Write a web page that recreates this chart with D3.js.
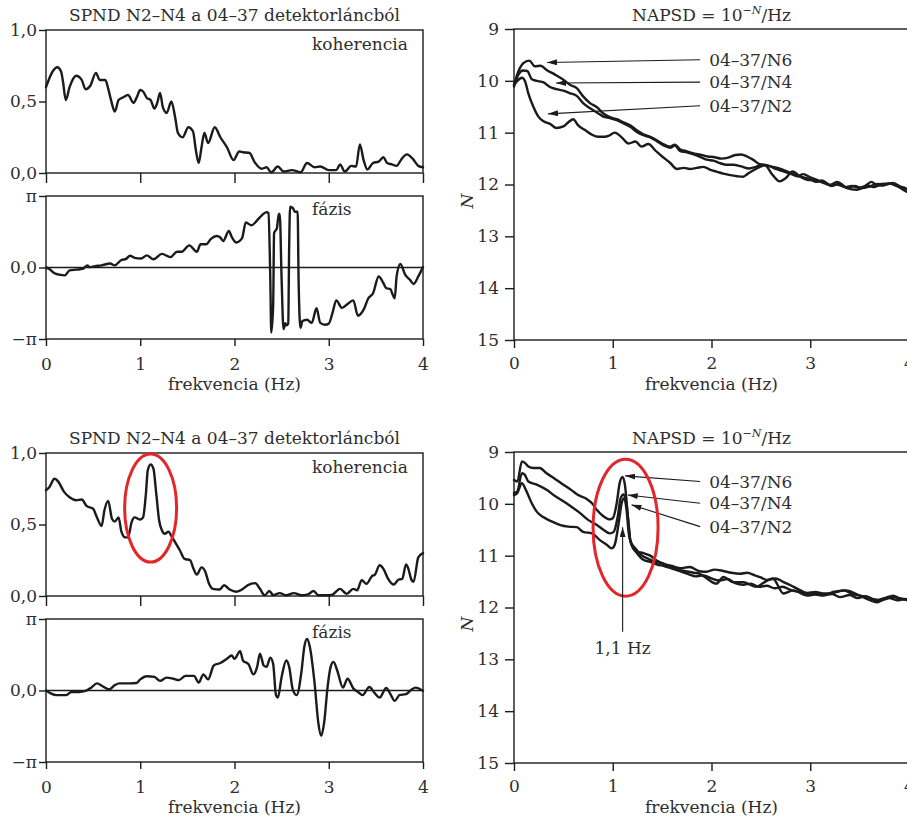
<!DOCTYPE html>
<html><head><meta charset="utf-8">
<script src="https://cdn.jsdelivr.net/npm/d3@7"></script>
<style>
body{margin:0;background:#fff}
svg{display:block}
text{font-family:"DejaVu Serif",serif;fill:#2e2e2e}
</style>
</head><body>
<svg id="c" width="907" height="823"></svg>
<script>
// ---------------- DATA ----------------
const freqTicks = [0, 1, 2, 3, 4];
const cohTicks = [0, 0.5, 1];
const cohTickLabels = ["0,0", "0,5", "1,0"];
const phaseTicks = [-1, 0, 1];            // in units of π
const phaseTickLabels = ["\u2212\u03c0", "0,0", "\u03c0"];
const psdTicks = [9, 10, 11, 12, 13, 14, 15];
const seriesLabels = ["04\u201337/N6", "04\u201337/N4", "04\u201337/N2"];
const leftTitle = "SPND N2\u2013N4 a 04\u201337 detektorláncból";

// top row: coherence (frequency Hz, coherence)
const cohTop = [[0,0.60],[0.07,0.71],[0.12,0.74],[0.16,0.71],[0.18,0.64],[0.21,0.51],[0.25,0.60],[0.32,0.68],[0.38,0.65],[0.42,0.585],[0.47,0.61],[0.53,0.70],[0.57,0.65],[0.63,0.65],[0.66,0.59],[0.69,0.51],[0.73,0.43],[0.77,0.51],[0.82,0.53],[0.87,0.545],[0.93,0.49],[0.96,0.525],[1.0,0.58],[1.03,0.57],[1.07,0.525],[1.11,0.51],[1.15,0.45],[1.18,0.49],[1.21,0.56],[1.24,0.46],[1.28,0.42],[1.33,0.50],[1.37,0.39],[1.40,0.28],[1.45,0.25],[1.51,0.32],[1.56,0.29],[1.59,0.16],[1.62,0.07],[1.65,0.18],[1.68,0.28],[1.72,0.21],[1.79,0.32],[1.85,0.25],[1.92,0.18],[1.99,0.09],[2.05,0.15],[2.09,0.145],[2.16,0.14],[2.21,0.08],[2.29,0.03],[2.34,0.04],[2.39,0.005],[2.46,0.045],[2.52,0.01],[2.61,0.02],[2.70,0.005],[2.77,0.07],[2.85,0.04],[2.91,0.045],[3.0,0.02],[3.08,0.02],[3.12,0.06],[3.17,0.01],[3.24,0.05],[3.29,0.045],[3.33,0.20],[3.37,0.09],[3.41,0.025],[3.47,0.07],[3.53,0.08],[3.58,0.11],[3.62,0.07],[3.67,0.06],[3.72,0.05],[3.77,0.095],[3.83,0.13],[3.89,0.10],[3.95,0.05],[4.0,0.04]];

// top row: phase (frequency Hz, phase / π)
const phaseTop = [[0,0],[0.035,-0.02],[0.09,-0.08],[0.14,-0.10],[0.2,-0.11],[0.25,-0.04],[0.32,-0.03],[0.39,-0.02],[0.44,0.03],[0.46,0.005],[0.52,0.02],[0.59,0.03],[0.68,0.055],[0.73,0.03],[0.80,0.105],[0.85,0.12],[0.89,0.165],[0.94,0.135],[1.01,0.125],[1.07,0.17],[1.14,0.115],[1.23,0.19],[1.32,0.145],[1.39,0.22],[1.44,0.22],[1.52,0.31],[1.60,0.22],[1.64,0.325],[1.70,0.325],[1.75,0.40],[1.81,0.44],[1.85,0.42],[1.88,0.37],[1.94,0.51],[1.97,0.43],[2.02,0.35],[2.08,0.41],[2.12,0.63],[2.18,0.59],[2.24,0.66],[2.29,0.73],[2.34,0.775],[2.36,0.76],[2.38,-0.17],[2.39,-0.91],[2.41,-0.54],[2.42,0.48],[2.45,0.55],[2.47,0.75],[2.48,0.75],[2.50,-0.17],[2.52,-0.86],[2.54,-0.78],[2.55,-0.81],[2.57,-0.785],[2.58,0.29],[2.59,0.85],[2.62,0.83],[2.64,0.78],[2.67,0.78],[2.68,-0.17],[2.70,-0.845],[2.72,-0.75],[2.77,-0.73],[2.82,-0.775],[2.87,-0.57],[2.91,-0.775],[2.96,-0.80],[3.0,-0.785],[3.04,-0.635],[3.08,-0.46],[3.14,-0.565],[3.21,-0.50],[3.26,-0.46],[3.31,-0.675],[3.37,-0.59],[3.42,-0.43],[3.47,-0.36],[3.53,-0.125],[3.58,-0.22],[3.61,-0.29],[3.65,-0.30],[3.70,-0.43],[3.72,-0.125],[3.76,0.05],[3.81,-0.10],[3.86,-0.17],[3.90,-0.23],[3.95,-0.125],[4.0,0.005]];

// bottom row: coherence
const cohBot = [[0,0.74],[0.035,0.76],[0.09,0.82],[0.13,0.80],[0.19,0.73],[0.25,0.69],[0.32,0.67],[0.38,0.675],[0.43,0.63],[0.50,0.61],[0.54,0.55],[0.59,0.49],[0.62,0.60],[0.66,0.665],[0.70,0.54],[0.73,0.52],[0.77,0.55],[0.80,0.45],[0.84,0.41],[0.87,0.41],[0.91,0.52],[0.94,0.55],[1.0,0.535],[1.03,0.55],[1.06,0.715],[1.08,0.88],[1.11,0.92],[1.14,0.89],[1.17,0.715],[1.20,0.53],[1.23,0.46],[1.26,0.435],[1.30,0.45],[1.33,0.42],[1.38,0.365],[1.42,0.32],[1.47,0.26],[1.53,0.25],[1.56,0.20],[1.60,0.15],[1.65,0.20],[1.69,0.17],[1.73,0.085],[1.77,0.05],[1.84,0.045],[1.89,0.075],[1.95,0.045],[2.02,0.03],[2.09,0.05],[2.14,0.075],[2.22,0.09],[2.27,0.05],[2.32,0.005],[2.37,0.035],[2.41,0.007],[2.48,0.02],[2.55,0.005],[2.63,0.02],[2.71,0.005],[2.78,0.012],[2.84,0.035],[2.89,0.005],[2.96,0.005],[3.03,0.007],[3.12,0.05],[3.19,0.015],[3.26,0.05],[3.30,0.04],[3.35,0.11],[3.40,0.085],[3.46,0.14],[3.49,0.15],[3.54,0.215],[3.58,0.19],[3.63,0.12],[3.69,0.08],[3.74,0.115],[3.78,0.12],[3.82,0.22],[3.84,0.20],[3.88,0.11],[3.90,0.10],[3.95,0.27],[4.0,0.30]];

// bottom row: phase / π
const phaseBot = [[0,0],[0.05,-0.04],[0.11,-0.065],[0.21,-0.065],[0.27,-0.02],[0.35,-0.02],[0.42,-0.005],[0.48,0.04],[0.54,0.10],[0.60,0.06],[0.67,0.015],[0.73,0.075],[0.78,0.10],[0.89,0.10],[0.96,0.105],[1.0,0.155],[1.07,0.20],[1.15,0.19],[1.21,0.135],[1.28,0.18],[1.35,0.165],[1.41,0.145],[1.48,0.205],[1.57,0.205],[1.62,0.11],[1.67,0.225],[1.72,0.155],[1.78,0.35],[1.85,0.385],[1.92,0.445],[1.97,0.49],[2.0,0.445],[2.06,0.55],[2.09,0.42],[2.15,0.365],[2.20,0.225],[2.24,0.33],[2.27,0.515],[2.31,0.35],[2.34,0.33],[2.38,0.46],[2.41,0.375],[2.44,-0.065],[2.46,-0.10],[2.50,0.19],[2.55,0.42],[2.58,0.33],[2.62,0.005],[2.66,-0.065],[2.71,0.26],[2.74,0.605],[2.77,0.72],[2.80,0.605],[2.85,0.10],[2.89,-0.46],[2.92,-0.635],[2.95,-0.46],[2.99,0.075],[3.02,0.33],[3.05,0.40],[3.09,0.28],[3.15,0.04],[3.20,0.165],[3.26,0.03],[3.31,-0.02],[3.36,-0.065],[3.43,0.05],[3.49,-0.04],[3.54,-0.10],[3.61,0.035],[3.65,-0.04],[3.70,-0.145],[3.75,-0.065],[3.82,-0.05],[3.88,0.015],[3.92,0.04],[4.0,-0.005]];

// top row: NAPSD exponent N
const psdTopN6 = [[0,10.08],[0.044,9.82],[0.095,9.66],[0.155,9.61],[0.21,9.72],[0.27,9.71],[0.33,9.79],[0.415,9.88],[0.5,9.98],[0.57,10.08],[0.635,10.14],[0.70,10.30],[0.77,10.43],[0.84,10.51],[0.905,10.63],[0.97,10.70],[1.04,10.74],[1.11,10.80],[1.18,10.86],[1.24,10.95],[1.31,11.03],[1.38,11.08],[1.45,11.15],[1.51,11.22],[1.58,11.27],[1.63,11.23],[1.68,11.32],[1.75,11.36],[1.82,11.40],[1.9,11.43],[1.96,11.46],[2.02,11.47],[2.1,11.50],[2.17,11.48],[2.24,11.43],[2.3,11.42],[2.36,11.46],[2.42,11.52],[2.48,11.6],[2.56,11.63],[2.62,11.66],[2.7,11.70],[2.78,11.76],[2.85,11.82],[2.92,11.86],[3.0,11.90],[3.06,11.95],[3.12,11.92],[3.2,12.01],[3.27,12.0],[3.35,12.05],[3.42,12.03],[3.5,12.06],[3.58,12.02],[3.65,12.05],[3.72,11.99],[3.8,11.98],[3.88,12.03],[3.95,12.06],[4.0,12.12]];
const psdTopN4 = [[0,10.11],[0.044,9.88],[0.09,9.80],[0.135,9.81],[0.18,9.97],[0.23,10.0],[0.3,10.03],[0.365,10.12],[0.43,10.16],[0.5,10.19],[0.57,10.24],[0.635,10.29],[0.70,10.43],[0.77,10.53],[0.84,10.61],[0.905,10.69],[0.97,10.72],[1.04,10.76],[1.11,10.82],[1.18,10.89],[1.24,10.98],[1.31,11.05],[1.38,11.09],[1.45,11.17],[1.51,11.24],[1.58,11.29],[1.63,11.25],[1.68,11.35],[1.75,11.38],[1.82,11.42],[1.89,11.47],[1.95,11.52],[2.02,11.54],[2.09,11.59],[2.15,11.62],[2.22,11.62],[2.3,11.65],[2.38,11.69],[2.45,11.66],[2.52,11.62],[2.58,11.64],[2.65,11.70],[2.72,11.74],[2.8,11.79],[2.87,11.84],[2.93,11.80],[3.0,11.86],[3.08,11.92],[3.15,11.97],[3.22,12.03],[3.3,11.98],[3.37,12.06],[3.45,12.03],[3.52,12.07],[3.6,12.04],[3.68,11.99],[3.76,12.0],[3.84,11.97],[3.92,12.05],[4.0,12.1]];
const psdTopN2 = [[0,10.08],[0.034,10.0],[0.08,9.94],[0.11,10.0],[0.145,10.24],[0.196,10.50],[0.247,10.69],[0.30,10.78],[0.365,10.83],[0.43,10.91],[0.5,10.88],[0.55,10.80],[0.60,10.74],[0.65,10.86],[0.72,10.95],[0.79,11.04],[0.855,11.08],[0.92,11.08],[0.97,11.05],[1.02,11.0],[1.09,11.09],[1.16,11.21],[1.23,11.17],[1.29,11.27],[1.36,11.22],[1.43,11.34],[1.5,11.46],[1.58,11.58],[1.65,11.70],[1.72,11.68],[1.78,11.70],[1.85,11.68],[1.92,11.66],[1.99,11.72],[2.05,11.75],[2.12,11.79],[2.19,11.82],[2.26,11.84],[2.32,11.85],[2.37,11.79],[2.46,11.69],[2.54,11.63],[2.62,11.82],[2.69,11.94],[2.75,11.88],[2.82,11.75],[2.9,11.85],[2.97,11.91],[3.05,11.92],[3.12,11.96],[3.2,12.01],[3.27,11.95],[3.37,12.07],[3.47,12.1],[3.55,12.04],[3.62,11.95],[3.67,12.01],[3.74,12.02],[3.81,11.98],[3.9,12.05],[3.98,12.14],[4.0,12.15]];

// bottom row: NAPSD exponent N
const psdBotN6 = [[0,9.54],[0.034,9.57],[0.08,9.18],[0.11,9.21],[0.145,9.28],[0.196,9.31],[0.26,9.31],[0.33,9.41],[0.415,9.52],[0.5,9.63],[0.585,9.74],[0.65,9.83],[0.74,9.91],[0.79,9.99],[0.84,10.12],[0.905,10.24],[0.97,10.30],[1.0,10.28],[1.04,9.99],[1.07,9.6],[1.10,9.48],[1.125,9.66],[1.15,10.18],[1.175,10.68],[1.2,10.82],[1.24,10.92],[1.31,10.95],[1.38,11.0],[1.45,11.1],[1.52,11.16],[1.6,11.2],[1.68,11.24],[1.78,11.22],[1.88,11.3],[1.95,11.31],[2.03,11.27],[2.11,11.29],[2.2,11.33],[2.29,11.35],[2.36,11.33],[2.44,11.38],[2.5,11.42],[2.56,11.47],[2.65,11.44],[2.72,11.5],[2.8,11.57],[2.88,11.65],[2.97,11.72],[3.05,11.7],[3.13,11.73],[3.2,11.73],[3.27,11.7],[3.34,11.67],[3.42,11.73],[3.5,11.77],[3.58,11.8],[3.67,11.86],[3.75,11.82],[3.84,11.77],[3.9,11.82],[4.0,11.86]];
const psdBotN4 = [[0,9.79],[0.034,9.76],[0.08,9.41],[0.11,9.44],[0.145,9.57],[0.23,9.63],[0.33,9.73],[0.415,9.85],[0.5,9.95],[0.585,10.06],[0.67,10.18],[0.75,10.31],[0.84,10.41],[0.905,10.5],[0.97,10.57],[1.01,10.54],[1.05,10.25],[1.08,9.89],[1.11,9.82],[1.135,9.95],[1.16,10.37],[1.18,10.72],[1.23,10.86],[1.29,10.99],[1.36,11.06],[1.43,11.12],[1.5,11.15],[1.58,11.22],[1.66,11.27],[1.74,11.3],[1.82,11.33],[1.88,11.35],[1.96,11.45],[2.05,11.54],[2.12,11.41],[2.22,11.51],[2.32,11.51],[2.45,11.6],[2.53,11.52],[2.62,11.44],[2.73,11.73],[2.83,11.67],[2.97,11.77],[3.05,11.75],[3.13,11.77],[3.23,11.7],[3.36,11.67],[3.5,11.77],[3.58,11.84],[3.67,11.9],[3.75,11.84],[3.84,11.8],[3.92,11.83],[4.0,11.84]];
const psdBotN2 = [[0,9.83],[0.034,9.79],[0.08,9.6],[0.12,9.73],[0.18,9.99],[0.23,10.15],[0.30,10.26],[0.38,10.34],[0.47,10.41],[0.55,10.44],[0.635,10.45],[0.70,10.54],[0.79,10.57],[0.87,10.70],[0.94,10.79],[0.99,10.86],[1.02,10.79],[1.06,10.37],[1.09,9.99],[1.115,9.89],[1.14,10.12],[1.16,10.54],[1.19,10.79],[1.24,10.94],[1.31,11.08],[1.38,11.12],[1.45,11.17],[1.52,11.2],[1.6,11.25],[1.68,11.3],[1.76,11.35],[1.84,11.4],[1.92,11.38],[2.0,11.44],[2.08,11.48],[2.16,11.45],[2.24,11.53],[2.32,11.56],[2.4,11.54],[2.48,11.6],[2.56,11.58],[2.64,11.63],[2.72,11.6],[2.8,11.66],[2.88,11.7],[2.96,11.74],[3.05,11.72],[3.14,11.76],[3.22,11.74],[3.3,11.8],[3.4,11.76],[3.48,11.82],[3.56,11.78],[3.64,11.84],[3.72,11.86],[3.8,11.82],[3.88,11.86],[3.95,11.84],[4.0,11.87]];

const peakFreqLabel = "1,1 Hz";

// ---------------- DRAWING ----------------
const svg = d3.select("#c");
const INK = "#1b1b1b";
const FS = 17;
const RED = "#e3262c";

svg.append("defs").append("marker")
  .attr("id", "ah").attr("viewBox", "0 0 10 6").attr("refX", 10).attr("refY", 3)
  .attr("markerWidth", 10).attr("markerHeight", 6).attr("orient", "auto")
  .attr("markerUnits", "userSpaceOnUse")
  .append("path").attr("d", "M0,0L10,3L0,6Z").attr("fill", INK);

function styleAxis(g) {
  g.attr("font-family", null).attr("font-size", null);
  g.select(".domain").remove();
  g.selectAll(".tick line").attr("stroke", INK).attr("stroke-width", 1.4);
  g.selectAll(".tick text").attr("font-size", FS).attr("fill", "#2e2e2e");
}

function box(g, x0, x1, y0, y1) {
  g.append("rect").attr("x", x0).attr("y", y0).attr("width", x1 - x0).attr("height", y1 - y0)
    .attr("fill", "none").attr("stroke", INK).attr("stroke-width", 1.4);
}

function curve(g, data, x, y) {
  g.append("path").datum(data)
    .attr("fill", "none").attr("stroke", INK).attr("stroke-width", 2.4)
    .attr("stroke-linejoin", "round").attr("stroke-linecap", "round")
    .attr("d", d3.line().x(d => x(d[0])).y(d => y(d[1])).curve(d3.curveMonotoneX));
}

function leftGroup(oy, coh, ph, withEllipse) {
  const g = svg.append("g");
  const x = d3.scaleLinear().domain([0, 4]).range([46, 423]);
  const yc = d3.scaleLinear().domain([0, 1]).range([173 + oy, 30 + oy]);
  const yp = d3.scaleLinear().domain([-1, 1]).range([339 + oy, 196 + oy]);

  box(g, 46, 423, yc(1), yc(0));
  box(g, 46, 423, yp(1), yp(-1));
  g.append("line").attr("x1", 46).attr("x2", 423).attr("y1", yp(0)).attr("y2", yp(0))
    .attr("stroke", INK).attr("stroke-width", 1.4);

  g.append("g").attr("transform", `translate(46,0)`)
    .call(d3.axisLeft(yc).tickValues(cohTicks).tickFormat((d, i) => cohTickLabels[i]).tickSize(7).tickPadding(2))
    .call(styleAxis);
  g.append("g").attr("transform", `translate(0,${yc(0)})`)
    .call(d3.axisBottom(x).tickValues(freqTicks).tickFormat("").tickSize(10))
    .call(styleAxis);
  g.append("g").attr("transform", `translate(46,0)`)
    .call(d3.axisLeft(yp).tickValues(phaseTicks).tickFormat((d, i) => phaseTickLabels[i]).tickSize(7).tickPadding(2))
    .call(styleAxis);
  g.append("g").attr("transform", `translate(0,${yp(-1)})`)
    .call(d3.axisBottom(x).tickValues(freqTicks).tickFormat(d3.format("d")).tickSize(7).tickPadding(12))
    .call(styleAxis);

  curve(g, coh, x, yc);
  curve(g, ph, x, yp);

  g.append("text").attr("x", 234.5).attr("y", 21 + oy).attr("text-anchor", "middle")
    .attr("font-size", FS).text(leftTitle);
  g.append("text").attr("x", 312).attr("y", 50 + oy).attr("font-size", FS).text("koherencia");
  g.append("text").attr("x", 312).attr("y", 215 + oy).attr("font-size", FS).text("fázis");
  g.append("text").attr("x", 234.5).attr("y", 390 + oy).attr("text-anchor", "middle")
    .attr("font-size", FS).text("frekvencia (Hz)");

  if (withEllipse) {
    g.append("ellipse").attr("cx", x(1.11)).attr("cy", yc(0.615)).attr("rx", 26).attr("ry", 54)
      .attr("fill", "none").attr("stroke", RED).attr("stroke-width", 3);
  }
}

function rightGroup(oy, n6, n4, n2, arrows, withPeak) {
  const g = svg.append("g");
  const x = d3.scaleLinear().domain([0, 4]).range([514, 909]);
  const y = d3.scaleLinear().domain([9, 15]).range([29 + oy, 340 + oy]);

  box(g, 514, 909, y(9), y(15));
  g.append("g").attr("transform", `translate(514,0)`)
    .call(d3.axisLeft(y).tickValues(psdTicks).tickFormat(d3.format("d")).tickSize(9).tickPadding(6))
    .call(styleAxis);
  g.append("g").attr("transform", `translate(0,${y(15)})`)
    .call(d3.axisBottom(x).tickValues(freqTicks).tickFormat(d3.format("d")).tickSize(8).tickPadding(9))
    .call(styleAxis);

  [n6, n4, n2].forEach(s => curve(g, s, x, y));

  // title
  const t = g.append("text").attr("x", 711.5).attr("y", 21 + oy).attr("text-anchor", "middle").attr("font-size", FS);
  t.append("tspan").text("NAPSD = 10");
  t.append("tspan").attr("dy", -7).attr("font-size", 11).text("\u2212");
  t.append("tspan").attr("font-size", 11).attr("font-style", "italic").text("N");
  t.append("tspan").attr("dy", 7).text("/Hz");

  g.append("text").attr("transform", `translate(473,${201 + oy}) rotate(-90)`)
    .attr("text-anchor", "middle").attr("font-size", FS).attr("font-style", "italic").text("N");
  g.append("text").attr("x", 711.5).attr("y", 390 + oy).attr("text-anchor", "middle")
    .attr("font-size", FS).text("frekvencia (Hz)");

  arrows.forEach((a, i) => {
    g.append("line").attr("x1", x(a.from[0])).attr("y1", y(a.from[1]))
      .attr("x2", x(a.to[0])).attr("y2", y(a.to[1]))
      .attr("stroke", INK).attr("stroke-width", 1.1).attr("marker-end", "url(#ah)");
    g.append("text").attr("x", x(a.from[0]) + 9).attr("y", y(a.from[1])).attr("dy", "0.36em")
      .attr("font-size", FS).text(seriesLabels[i]);
  });

  if (withPeak) {
    g.append("ellipse").attr("cx", x(1.13)).attr("cy", y(10.46)).attr("rx", 32.5).attr("ry", 68.5)
      .attr("fill", "none").attr("stroke", RED).attr("stroke-width", 3);
    g.append("line").attr("x1", x(1.1)).attr("y1", y(12.47)).attr("x2", x(1.1)).attr("y2", y(10.45))
      .attr("stroke", INK).attr("stroke-width", 1.1).attr("marker-end", "url(#ah)");
    g.append("text").attr("x", x(1.1)).attr("y", y(12.47) + 22).attr("text-anchor", "middle")
      .attr("font-size", FS).text(peakFreqLabel);
  }
}

leftGroup(0, cohTop, phaseTop, false);
leftGroup(423, cohBot, phaseBot, true);

rightGroup(0, psdTopN6, psdTopN4, psdTopN2, [
  { from: [1.885, 9.593], to: [0.334, 9.645] },
  { from: [1.885, 10.024], to: [0.426, 10.043] },
  { from: [1.885, 10.482], to: [0.344, 10.637] }
], false);
rightGroup(423, psdBotN6, psdBotN4, psdBotN2, [
  { from: [1.885, 9.57], to: [1.125, 9.46] },
  { from: [1.885, 9.99], to: [1.152, 9.83] },
  { from: [1.885, 10.44], to: [1.19, 10.02] }
], true);
</script>
</body></html>
